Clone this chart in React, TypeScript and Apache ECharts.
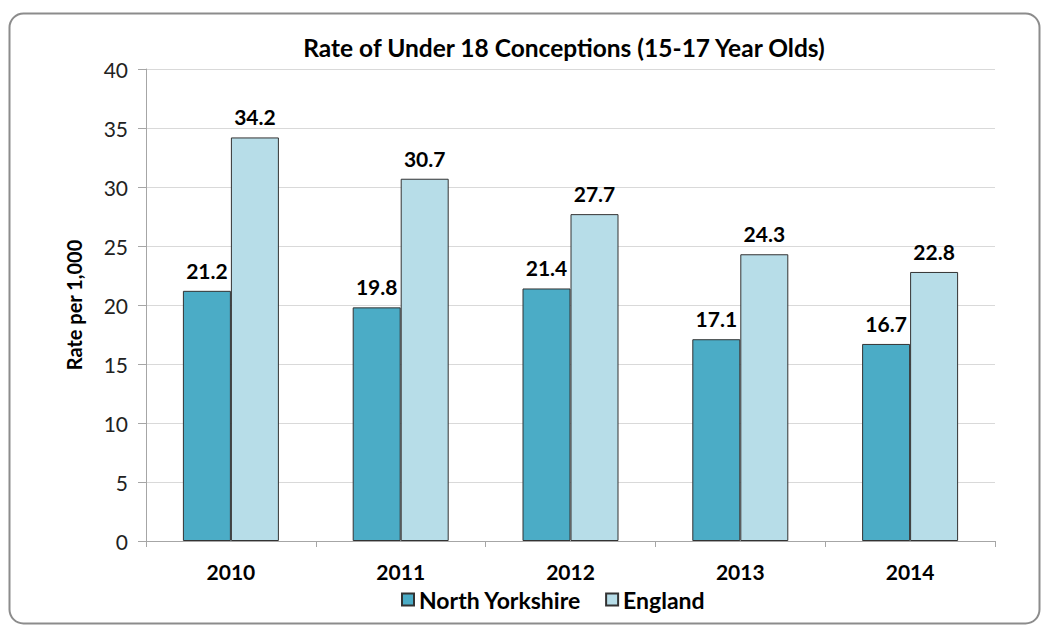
import React, { useEffect, useRef } from "react";
import * as echarts from "echarts";

const years = ["2010", "2011", "2012", "2013", "2014"];
const northYorkshire = [21.2, 19.8, 21.4, 17.1, 16.7];
const england = [34.2, 30.7, 27.7, 24.3, 22.8];
const seriesNames = ["North Yorkshire", "England"];
const titleText = "Rate of Under 18 Conceptions (15-17 Year Olds)";
const yAxisName = "Rate per 1,000";

const FONT = "Lato, 'Open Sans', 'DejaVu Sans', sans-serif";

export default function App() {
  const ref = useRef<HTMLDivElement>(null);
  useEffect(() => {
    document.body.style.margin = "0";
    const chart = echarts.init(ref.current!, null, { renderer: "svg" });
    const labelStyle = {
      show: true,
      position: "top" as const,
      distance: 10,
      fontWeight: "bold" as const,
      fontSize: 21,
      color: "#000",
      fontFamily: FONT,
    };
    chart.setOption({
      animation: false,
      backgroundColor: "#fff",
      textStyle: { fontFamily: FONT },
      title: {
        text: titleText,
        left: 559,
        textAlign: "center",
        top: 30,
        textStyle: { fontSize: 24.5, fontWeight: "bold", color: "#000", fontFamily: FONT },
      },
      graphic: [
        {
          type: "rect",
          shape: { x: 9.5, y: 13.5, width: 1030, height: 610, r: 14 },
          style: { fill: "none", stroke: "#8c8c8c", lineWidth: 2 },
          z: 100,
        },
      ],
      legend: {
        bottom: 12,
        left: 396,
        itemWidth: 12,
        itemHeight: 12,
        itemGap: 24,
        icon: "rect",
        textStyle: { fontSize: 23, fontWeight: "bold", color: "#000", fontFamily: FONT },
        data: seriesNames,
      },
      grid: { left: 146, right: 46, top: 69, bottom: 87 },
      xAxis: {
        type: "category",
        data: years,
        axisLine: { lineStyle: { color: "#a6a6a6", width: 1 } },
        axisTick: { show: true, length: 6, lineStyle: { color: "#a6a6a6" } },
        axisLabel: {
          fontSize: 21,
          fontWeight: "bold",
          color: "#000",
          margin: 20,
          fontFamily: FONT,
        },
      },
      yAxis: {
        type: "value",
        min: 0,
        max: 40,
        interval: 5,
        name: yAxisName,
        nameLocation: "middle",
        nameGap: 62,
        nameTextStyle: { fontSize: 20, fontWeight: "bold", color: "#000", fontFamily: FONT },
        axisLine: { show: true, lineStyle: { color: "#a6a6a6" } },
        axisTick: { show: true, length: 8, lineStyle: { color: "#a6a6a6" } },
        axisLabel: { fontSize: 21, color: "#222", margin: 18, fontFamily: FONT },
        splitLine: { lineStyle: { color: "#d9d9d9" } },
      },
      series: [
        {
          name: seriesNames[0],
          type: "bar",
          data: northYorkshire,
          barWidth: 48,
          barGap: "0%",
          itemStyle: { color: "#4BACC6", borderColor: "#333", borderWidth: 1 },
          label: labelStyle,
        },
        {
          name: seriesNames[1],
          type: "bar",
          data: england,
          barWidth: 48,
          barGap: "0%",
          itemStyle: { color: "#B7DDE8", borderColor: "#333", borderWidth: 1 },
          label: labelStyle,
        },
      ],
    });
    return () => chart.dispose();
  }, []);
  return <div ref={ref} style={{ width: 1041, height: 628 }} />;
}
